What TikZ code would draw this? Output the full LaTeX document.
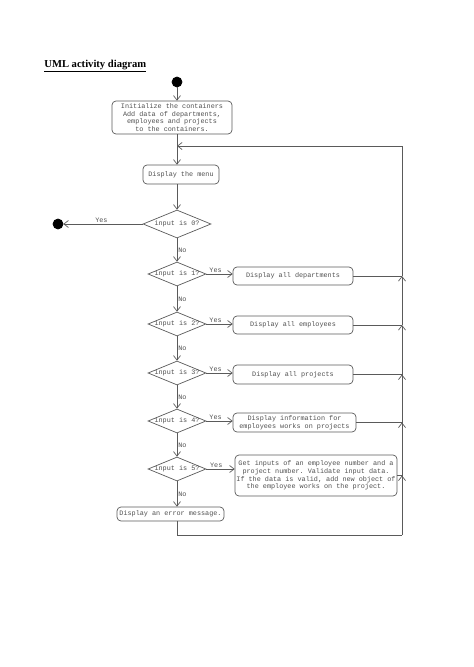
\documentclass[tikz,border=0pt]{standalone}
\usepackage{fontspec}
\setmainfont{Liberation Serif}
\setmonofont{Liberation Mono}
\usetikzlibrary{shapes.geometric,arrows.meta}
\definecolor{ln}{HTML}{5A5A5A}
\definecolor{tx}{HTML}{505050}
\begin{document}
\begin{tikzpicture}[x=1pt,y=-1pt,color=ln,line width=0.7pt,
  arr/.style={-{Straight Barb[length=4.5pt,width=7pt]}},
  act/.style={draw=ln,rounded corners=4pt,fill=white,inner sep=0pt,align=center,
    font=\ttfamily\fontsize{6.8}{7.6}\selectfont,text=tx},
  dec/.style={draw=ln,diamond,inner sep=0pt,fill=white,
    font=\ttfamily\fontsize{6.8}{7.6}\selectfont,text=tx},
  lab/.style={font=\ttfamily\fontsize{6.8}{7.6}\selectfont,text=tx,inner sep=1pt},
  dot/.style={circle,fill=black,draw=black,minimum size=10pt,inner sep=0pt}]
\useasboundingbox (0,0) rectangle (474,667);
\node[anchor=base west,inner sep=0pt,text=black,font=\bfseries\fontsize{10.6}{12}\selectfont] (title) at (44,67) {\underline{UML activity diagram}};
\node[dot] (start) at (177,82) {};
\node[act,minimum width=120pt,minimum height=33pt] (init) at (172,117.5)
  {Initialize the containers\\Add data of departments,\\employees and projects\\to the containers.};
\node[act,minimum width=76pt,minimum height=19pt] (menu) at (181,174.5) {Display the menu};
\node[dec,minimum width=68pt,minimum height=28pt] (d0) at (177,224) {\makebox[0pt]{input is 0?}};
\node[dot] (end) at (58,224) {};
\foreach \i/\y in {1/274,2/324,3/373,4/421,5/469}{
  \node[dec,minimum width=58pt,minimum height=24pt] (d\i) at (177,\y) {\makebox[0pt]{input is \i?}};
}
\node[act,minimum width=120pt,minimum height=18pt] (b1) at (293,276) {Display all departments};
\node[act,minimum width=120pt,minimum height=18pt] (b2) at (293,325) {Display all employees};
\node[act,minimum width=120pt,minimum height=19pt] (b3) at (293,374.5) {Display all projects};
\node[act,minimum width=123pt,minimum height=19pt] (b4) at (294.5,422.5) {Display information for\\employees works on projects};
\node[act,minimum width=162pt,minimum height=41pt] (b5) at (316,475.5)
  {Get inputs of an employee number and a\\project number. Validate input data.\\If the data is valid, add new object of\\the employee works on the project.};
\node[act,minimum width=107pt,minimum height=14pt] (err) at (170.5,514) {Display an error message.};
\coordinate (m) at (177,146);
\coordinate (rt) at (402,146);
\coordinate (rb) at (402,535);
\coordinate (eb) at (177,535);
\foreach \i in {1,...,5}{ \coordinate (r\i) at (402,0 |- b\i.east); }
\draw[arr] (start) -- (start |- init.north);
\draw[arr] (init.south -| m) -- (menu.north -| m);
\draw[arr] (menu.south -| m) -- (d0);
\draw[arr] (d0) -- node[lab,above,pos=0.52]{Yes} (end);
\draw[arr] (d0) -- node[lab,right,pos=0.5]{No} (d1);
\draw[arr] (d1) -- node[lab,right,pos=0.5]{No} (d2);
\draw[arr] (d2) -- node[lab,right,pos=0.5]{No} (d3);
\draw[arr] (d3) -- node[lab,right,pos=0.5]{No} (d4);
\draw[arr] (d4) -- node[lab,right,pos=0.5]{No} (d5);
\draw[arr] (d5) -- node[lab,right,pos=0.5]{No} (err.north -| d5);
\foreach \i in {1,...,5}{
  \draw[arr] (d\i.east) -- node[lab,above,pos=0.35]{Yes} (b\i.west |- d\i.east);
  \draw (b\i.east) -- (r\i);
}
\draw (err.south -| d5) -- (eb) -- (rb);
\draw[arr] (rb) -- (r5);
\draw[arr] (r5) -- (r4);
\draw[arr] (r4) -- (r3);
\draw[arr] (r3) -- (r2);
\draw[arr] (r2) -- (r1);
\draw[arr] (r1) -- (rt) -- (m);
\end{tikzpicture}
\end{document}
